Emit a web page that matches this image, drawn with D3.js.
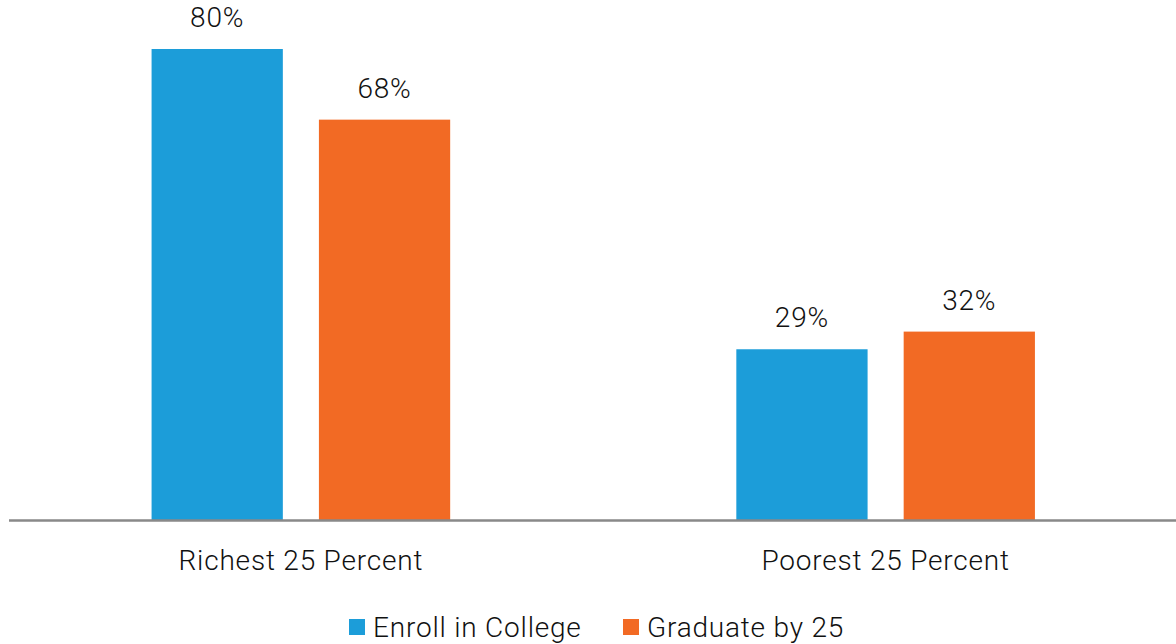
<!DOCTYPE html>
<html>
<head>
<meta charset="utf-8">
<script src="https://cdn.jsdelivr.net/npm/d3@7"></script>
<style>
  body { margin: 0; background: #fff; }
  text { font-family: Roboto, "DejaVu Sans", sans-serif; font-weight: 300; letter-spacing: 0.8px; fill: #111; }
</style>
</head>
<body>
<script>
var categories = ['Richest 25 Percent', 'Poorest 25 Percent'];
var seriesNames = ['Enroll in College', 'Graduate by 25'];
var enrollValues = [80, 29];
var graduateValues = [68, 32];
var colors = ['#1c9dd9', '#f26a24'];

var width = 1176;
var height = 644;
var baseline = 520;
var fontSize = 28;

var svg = d3.select('body')
    .append('svg')
    .attr('width', width)
    .attr('height', height);

var x0 = d3.scaleBand()
    .domain(categories)
    .range([8.5, 1178]);

var x1 = d3.scaleBand()
    .domain(seriesNames)
    .range([0, x0.bandwidth()])
    .paddingInner(0.2156)
    .paddingOuter(0.855);

var y = d3.scaleLinear()
    .domain([0, 80])
    .range([baseline, 49]);

var rows = categories.map(function (c, i) {
    return { cat: c, values: [enrollValues[i], graduateValues[i]] };
});

var groups = svg.selectAll('.group')
    .data(rows)
    .enter()
    .append('g')
    .attr('class', 'group')
    .attr('transform', d => 'translate(' + x0(d.cat) + ',0)');

var bars = groups.selectAll('.bar')
    .data(d => d.values.map((v, j) => ({ name: seriesNames[j], value: v, idx: j })))
    .enter();

bars.append('rect')
    .attr('x', d => x1(d.name))
    .attr('y', d => y(d.value))
    .attr('width', x1.bandwidth())
    .attr('height', d => baseline - y(d.value))
    .attr('fill', d => colors[d.idx]);

bars.append('text')
    .attr('x', d => x1(d.name) + x1.bandwidth() / 2)
    .attr('y', d => y(d.value) - 22)
    .attr('text-anchor', 'middle')
    .attr('font-size', fontSize)
    .text(d => d.value + '%');

// baseline axis
var xAxis = d3.axisBottom(x0).tickSize(0).tickPadding(0);
var axisGroup = svg.append('g')
    .attr('transform', 'translate(0,' + baseline + ')')
    .call(xAxis);
axisGroup.select('.domain')
    .attr('stroke', '#898989')
    .attr('stroke-width', 2.5);
axisGroup.selectAll('.tick text')
    .attr('dy', null)
    .attr('y', 50)
    .attr('font-size', fontSize)
    .attr('fill', '#111')
    .style('font-family', 'Roboto, "DejaVu Sans", sans-serif');

// legend
var legendX = [349, 623];
var legend = svg.selectAll('.legend')
    .data(seriesNames)
    .enter()
    .append('g')
    .attr('class', 'legend')
    .attr('transform', (d, i) => 'translate(' + legendX[i] + ',619)');

legend.append('rect')
    .attr('width', 16)
    .attr('height', 16)
    .attr('fill', (d, i) => colors[i]);

legend.append('text')
    .attr('x', 24)
    .attr('y', 18)
    .attr('font-size', fontSize)
    .text(d => d);
</script>
</body>
</html>
